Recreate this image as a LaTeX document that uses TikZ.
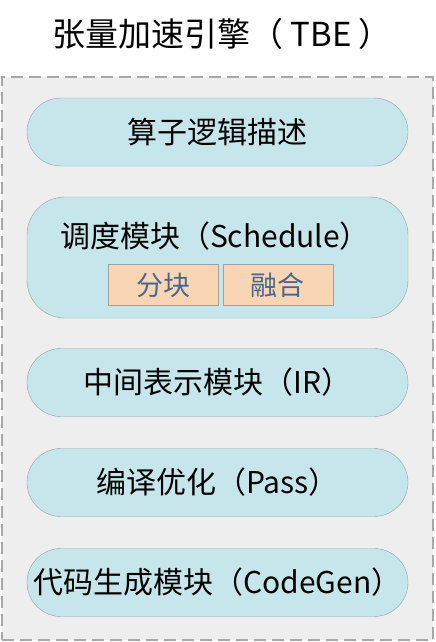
\documentclass[tikz,border=0pt]{standalone}
\usepackage{fontspec}
\setmainfont{Noto Sans CJK SC}
\usetikzlibrary{positioning}
\definecolor{panelgray}{HTML}{EEEEEE}
\definecolor{dashgray}{HTML}{A8A8A8}
\definecolor{boxblue}{HTML}{C7E6EB}
\definecolor{edgegray}{HTML}{8FA3A5}
\definecolor{peach}{HTML}{FAD5B4}
\definecolor{partedge}{HTML}{A0A0A0}
\definecolor{partblue}{HTML}{4A6690}

\begin{document}
\begin{tikzpicture}[x=1pt,y=-1pt,
  module/.style={draw=edgegray, fill=boxblue, rounded corners=34pt, minimum width=381pt, minimum height=68pt, inner sep=0pt, font=\fontsize{30}{32}\selectfont},
  part/.style={draw=partedge, fill=peach, minimum width=110pt, minimum height=41pt, inner sep=0pt, text=partblue, font=\fontsize{27}{29}\selectfont}]
			\useasboundingbox (0,0) rectangle (436,642);
			% Title and panel
			\node [font=\fontsize{33}{35}\selectfont] (title) at (222,34) {张量加速引擎（ TBE ）};
			\node [draw=dashgray, dashed, dash pattern=on 12pt off 6pt, line width=1.2pt, fill=panelgray, minimum width=431pt, minimum height=563pt] (tbe) at (217.5,358.5) {};
			
			% Modules
			\node [module] (desc) at (217.5,132) {算子逻辑描述};
			\node [module, minimum height=121pt, rounded corners=38pt] (sched) at (217.5,257.5) {};
			\node [font=\fontsize{30}{32}\selectfont] (schedlabel) at (215,236) {调度模块（Schedule）};
			\node [part] (tile) at (163.5,285) {分块};
			\node [part] (fuse) [right=4pt of tile] {融合};
			\node [module] (ir) at (217.5,382.5) {中间表示模块（IR）};
			\node [module] (pass) at (217.5,482.5) {编译优化（Pass）};
			\node [module] (codegen) at (217.5,582.5) {代码生成模块（CodeGen）};
			
		\end{tikzpicture}
\end{document}
